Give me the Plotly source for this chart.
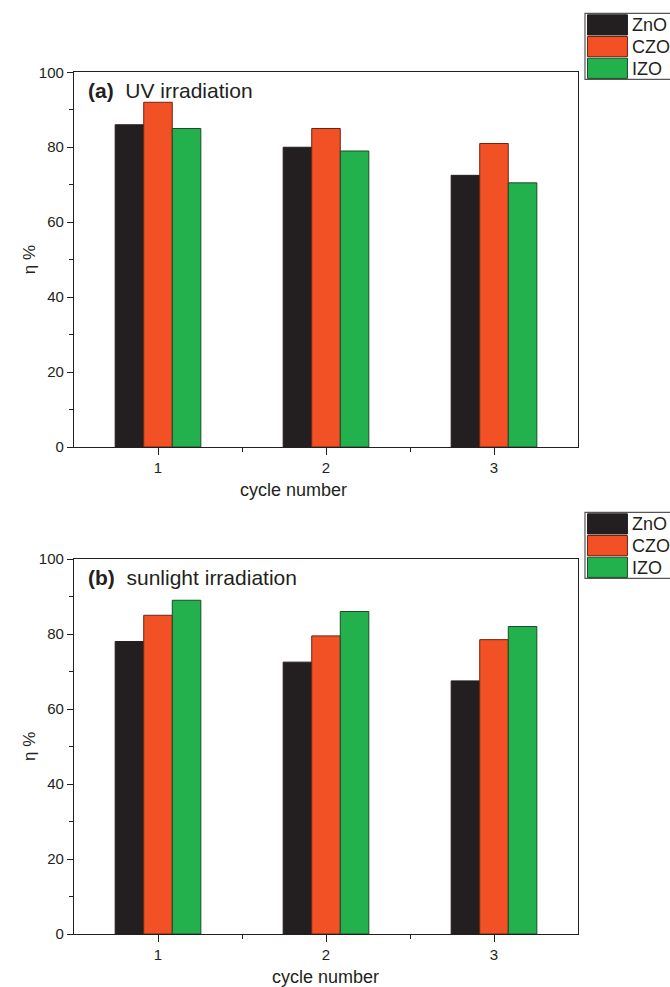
import plotly.graph_objects as go

# ---- data ----
cycles = [1, 2, 3]
series_names = ["ZnO", "CZO", "IZO"]
uv_zno = [86, 80, 72.5]
uv_czo = [92, 85, 81]
uv_izo = [85, 79, 70.5]
sun_zno = [78, 72.5, 67.5]
sun_czo = [85, 79.5, 78.5]
sun_izo = [89, 86, 82]
panel_labels = ["(a)", "(b)"]
panel_titles = ["UV irradiation", "sunlight irradiation"]
x_title = "cycle number"
y_title = "η %"
y_ticks = [0, 20, 40, 60, 80, 100]

colors = ["#231f20", "#f15124", "#22b14c"]
line_colors = ["#231f20", "#6e2412", "#1f4a2a"]

# the page body margin is removed by post_script, so figure fills the window
W, H = 670, 987
PLOT_L, PLOT_R = 73.5, 578          # pixel x of plot frame
L = PLOT_L
R = W - PLOT_R
FONT = "Liberation Sans, Arial, sans-serif"
AX = "#231f20"


def px_x(p):
    return (p - PLOT_L) / (PLOT_R - PLOT_L)


def px_y(p):
    return 1 - p / H


fig = go.Figure()

panels = [
    ([uv_zno, uv_czo, uv_izo], "x", "y"),
    ([sun_zno, sun_czo, sun_izo], "x2", "y2"),
]
for vals, xa, ya in panels:
    for name, v, c, lc in zip(series_names, vals, colors, line_colors):
        fig.add_trace(go.Bar(x=cycles, y=v, name=name, xaxis=xa, yaxis=ya,
                             marker=dict(color=c, line=dict(color=lc, width=1)),
                             showlegend=False))

doms = [(px_y(447), px_y(72.3)), (px_y(934), px_y(559))]

axis_common_x = dict(range=[0.5, 3.5], tickvals=cycles, ticks="outside", ticklen=7,
                     tickwidth=1.2, tickcolor=AX, showline=True, linecolor=AX, linewidth=1.2,
                     mirror=True, showgrid=False, zeroline=False,
                     minor=dict(tickvals=[1.5, 2.5], ticks="outside", ticklen=4, tickcolor=AX, tickwidth=1.2),
                     tickfont=dict(family=FONT, size=15, color=AX))
axis_common_y = dict(range=[0, 100], tickvals=y_ticks, ticks="outside", ticklen=6,
                     tickwidth=1.2, tickcolor=AX, showline=True, linecolor=AX, linewidth=1.2,
                     mirror=True, showgrid=False, zeroline=False,
                     minor=dict(dtick=10, ticks="outside", ticklen=4, tickcolor=AX, tickwidth=1.2),
                     tickfont=dict(family=FONT, size=15, color=AX))

fig.update_layout(
    width=W, height=H,
    margin=dict(l=L, r=R, t=0, b=0, autoexpand=False),
    paper_bgcolor="white", plot_bgcolor="white",
    barmode="group", bargap=0.49, bargroupgap=0,
    xaxis=dict(domain=[0, 1], anchor="y", **axis_common_x),
    yaxis=dict(domain=list(doms[0]), anchor="x", **axis_common_y),
    xaxis2=dict(domain=[0, 1], anchor="y2", **axis_common_x),
    yaxis2=dict(domain=list(doms[1]), anchor="x2", **axis_common_y),
    font=dict(family=FONT, color=AX),
)

# panel labels, axis titles
x_title_pos = [(293.7, 490), (325, 977)]
for i, (lab, tt) in enumerate(zip(panel_labels, panel_titles)):
    suf = "" if i == 0 else "2"
    top_px = 72.3 if i == 0 else 559
    fig.add_annotation(xref="paper", yref="paper", x=px_x(86), y=px_y(top_px + 18),
                       xanchor="left", yanchor="middle", showarrow=False,
                       text=f"<b>{lab}</b>  {tt}", font=dict(family=FONT, size=21, color=AX))
    xt, yt = x_title_pos[i]
    fig.add_annotation(xref="paper", yref="paper", x=px_x(xt), y=px_y(yt),
                       xanchor="center", yanchor="middle", showarrow=False,
                       text=x_title, font=dict(family=FONT, size=18, color=AX))
    fig.add_annotation(xref="paper", yref=f"y{suf} domain", x=px_x(29), y=0.5,
                       xanchor="center", yanchor="middle", showarrow=False, textangle=-90,
                       text=y_title, font=dict(family=FONT, size=17, color=AX))

# custom legends (large swatches as in reference)
legend_tops = [13.3, 512.3]
row_h = 21.7
for top in legend_tops:
    fig.add_shape(type="rect", xref="paper", yref="paper",
                  x0=px_x(585), x1=px_x(674), y0=px_y(top), y1=px_y(top + 3 * row_h + 1),
                  line=dict(color="#555555", width=1.2), fillcolor="white", layer="above")
    for k, (name, c, lc) in enumerate(zip(series_names, colors, line_colors)):
        y0 = top + 1 + k * row_h
        fig.add_shape(type="rect", xref="paper", yref="paper",
                      x0=px_x(587.5), x1=px_x(627.5), y0=px_y(y0 + 0.5), y1=px_y(y0 + row_h - 1),
                      line=dict(color=lc, width=1), fillcolor=c, layer="above")
        fig.add_annotation(xref="paper", yref="paper", x=px_x(630), y=px_y(y0 + row_h / 2),
                           xanchor="left", yanchor="middle", showarrow=False, text=name,
                           font=dict(family=FONT, size=18, color=AX))

fig.write_html("out.html", config={"displayModeBar": False},
               post_script="document.body.style.margin='0';document.body.style.overflow='hidden';")
